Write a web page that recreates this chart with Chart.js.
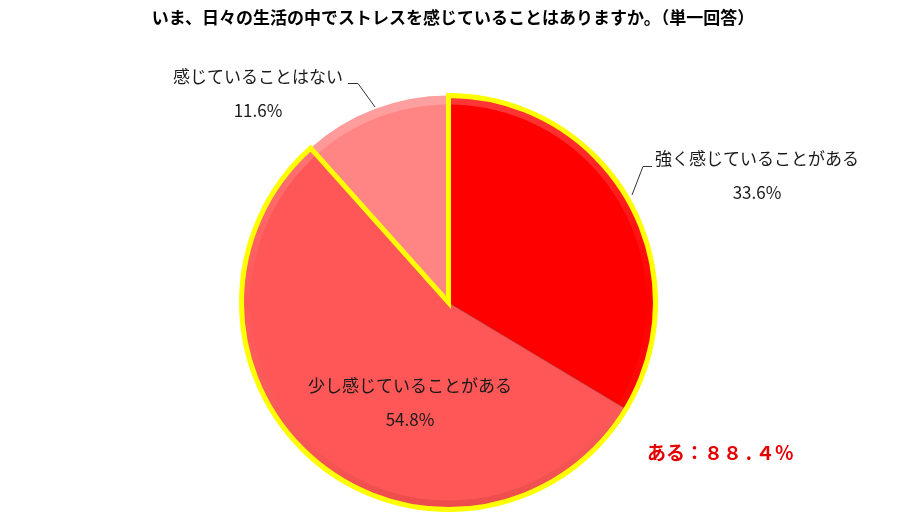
<!DOCTYPE html>
<html lang="ja">
<head>
<meta charset="utf-8">
<script src="https://cdn.jsdelivr.net/npm/chart.js@4/dist/chart.umd.min.js"></script>
<style>
  html, body { margin: 0; padding: 0; background: #ffffff; }
  #wrap { position: relative; width: 903px; height: 517px; }
</style>
</head>
<body>
<div id="wrap"><canvas id="c" width="903" height="517"></canvas></div>
<script>
// Survey answers and their shares (%)
const categories = ['強く感じていることがある', '少し感じていることがある', '感じていることはない'];
const shares = [33.6, 54.8, 11.6];
const sliceColors = ['#FF0000', '#FF5757', '#FF8585'];
const titleText = 'いま、日々の生活の中でストレスを感じていることはありますか。（単一回答）';
const summaryLabel = 'ある';

const JP = '"Noto Sans CJK JP", "Noto Sans", sans-serif';

function toFullWidth(s) {
  return s.replace(/[0-9%]/g, ch => String.fromCharCode(ch.charCodeAt(0) + 0xFEE0));
}

// Yellow outline around the union of the two "ある" slices, plus the labels
const decorations = {
  id: 'decorations',
  afterDatasetsDraw(chart) {
    const ctx = chart.ctx;
    const arcs = chart.getDatasetMeta(0).data;
    const a0 = arcs[0], a1 = arcs[1];
    const cx = a0.x, cy = a0.y, r = a0.outerRadius;

    // faint seam between the two red slices
    ctx.save();
    ctx.strokeStyle = 'rgba(150,0,0,0.45)';
    ctx.lineWidth = 1.2;
    ctx.beginPath();
    ctx.moveTo(cx, cy);
    ctx.lineTo(cx + r * Math.cos(a0.endAngle), cy + r * Math.sin(a0.endAngle));
    ctx.stroke();
    ctx.restore();

    // rim shading: light at top, darker near bottom
    ctx.save();
    ctx.beginPath();
    ctx.arc(cx, cy, r, 0, Math.PI * 2);
    ctx.arc(cx, cy, r - 9, 0, Math.PI * 2, true);
    ctx.closePath();
    const g = ctx.createLinearGradient(0, cy - r, 0, cy + r);
    g.addColorStop(0, 'rgba(255,255,255,0.22)');
    g.addColorStop(0.5, 'rgba(255,255,255,0.0)');
    g.addColorStop(1, 'rgba(120,0,0,0.14)');
    ctx.fillStyle = g;
    ctx.fill();
    ctx.restore();

    // yellow outline
    ctx.save();
    ctx.strokeStyle = '#FFFF00';
    ctx.lineWidth = 5;
    ctx.lineJoin = 'miter';
    ctx.beginPath();
    ctx.moveTo(cx, cy);
    ctx.lineTo(cx + r * Math.cos(a0.startAngle), cy + r * Math.sin(a0.startAngle));
    ctx.arc(cx, cy, r, a0.startAngle, a1.endAngle);
    ctx.closePath();
    ctx.stroke();
    ctx.restore();

    // title
    ctx.save();
    ctx.fillStyle = '#000000';
    ctx.textAlign = 'center';
    ctx.textBaseline = 'middle';
    ctx.font = 'bold 17px ' + JP;
    ctx.fillText(titleText, 453, 18);

    // slice labels
    ctx.font = '17px ' + JP;
    ctx.fillStyle = '#1a1a1a';
    const labelPos = [
      { x: 757, y: 159, py: 193 },
      { x: 410, y: 386, py: 420 },
      { x: 258, y: 77, py: 111 }
    ];
    categories.forEach((name, i) => {
      const p = labelPos[i];
      ctx.fillText(name, p.x, p.y);
      ctx.fillText(shares[i].toFixed(1) + '%', p.x, p.py);
    });

    // leader lines
    ctx.strokeStyle = '#333333';
    ctx.lineWidth = 1;
    ctx.beginPath();
    ctx.moveTo(652, 166.5); ctx.lineTo(643, 166.5); ctx.lineTo(632, 195);
    ctx.moveTo(348, 83.5); ctx.lineTo(358, 83.5); ctx.lineTo(375, 107);
    ctx.stroke();

    // combined share of the first two answers
    const total = (shares[0] + shares[1]).toFixed(1) + '%';
    ctx.font = 'bold 19px ' + JP;
    ctx.fillStyle = '#E60000';
    ctx.textAlign = 'left';
    ctx.fillText(summaryLabel + '：' + toFullWidth(total).replace('.', '\u2009.\u2009'), 647, 453);
    ctx.restore();
  }
};

new Chart(document.getElementById('c'), {
  type: 'pie',
  data: {
    labels: categories,
    datasets: [{
      data: shares,
      backgroundColor: sliceColors,
      borderWidth: 0
    }]
  },
  options: {
    responsive: false,
    animation: false,
    layout: { padding: { top: 95.5, bottom: 7.5, left: 241.5, right: 247.5 } },
    plugins: {
      legend: { display: false },
      title: { display: false },
      tooltip: { enabled: false }
    }
  },
  plugins: [decorations]
});
</script>
</body>
</html>
